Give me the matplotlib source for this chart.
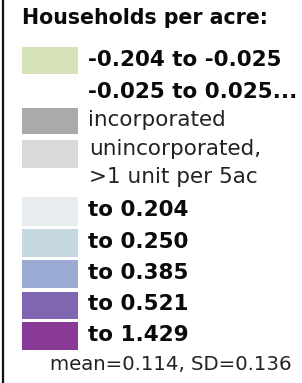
import matplotlib
matplotlib.use("Agg")
import matplotlib.pyplot as plt
from matplotlib.patches import Rectangle

title = "Households per acre:"
labels = ["-0.204 to -0.025", "-0.025 to 0.025...", "incorporated",
          "unincorporated,\n>1 unit per 5ac", "to 0.204", "to 0.250",
          "to 0.385", "to 0.521", "to 1.429"]
colors = ["#d6e3b8", None, "#a9aaab", "#d9d9d9", "#e8ecef", "#c5d8df",
          "#9aaad2", "#8065b0", "#883a96"]
bold = [True, True, False, False, True, True, True, True, True]
footnote = "mean=0.114, SD=0.136"

# swatch top/bottom in pixels
rows = [(47, 74), (80, 106), (108, 134), (140, 168), (197, 226),
        (229, 257), (260, 288), (292, 319), (322, 350)]

fig = plt.figure(figsize=(3.02, 3.83), dpi=100)
ax = fig.add_axes([0, 0, 1, 1])
ax.set_xlim(0, 302)
ax.set_ylim(383, 0)
ax.axis("off")

ax.plot([2.5, 2.5], [0, 383], color="#111111", lw=1.6)

ax.text(22, 18, title, fontsize=14.8, fontweight="bold", va="center",
        ha="left", color="#0a0a0a")

for (top, bot), lab, col, b in zip(rows, labels, colors, bold):
    if col is not None:
        ax.add_patch(Rectangle((22, top), 56, bot - top, color=col, lw=0))
    if "\n" in lab:
        first, second = lab.split("\n")
        ax.text(89, 149, first, fontsize=15.5, va="center", ha="left", color="#222222")
        ax.text(89, 177, second, fontsize=15.5, va="center", ha="left", color="#222222")
    else:
        ax.text(88, (top + bot) / 2 - 1, lab, fontsize=15.5 if b else 15.5,
                fontweight="bold" if b else "normal", va="center", ha="left",
                color="#0a0a0a" if b else "#222222")

ax.text(50, 365, footnote, fontsize=14.2, va="center", ha="left", color="#222222")

fig.savefig("out.png", dpi=100, facecolor="white")
